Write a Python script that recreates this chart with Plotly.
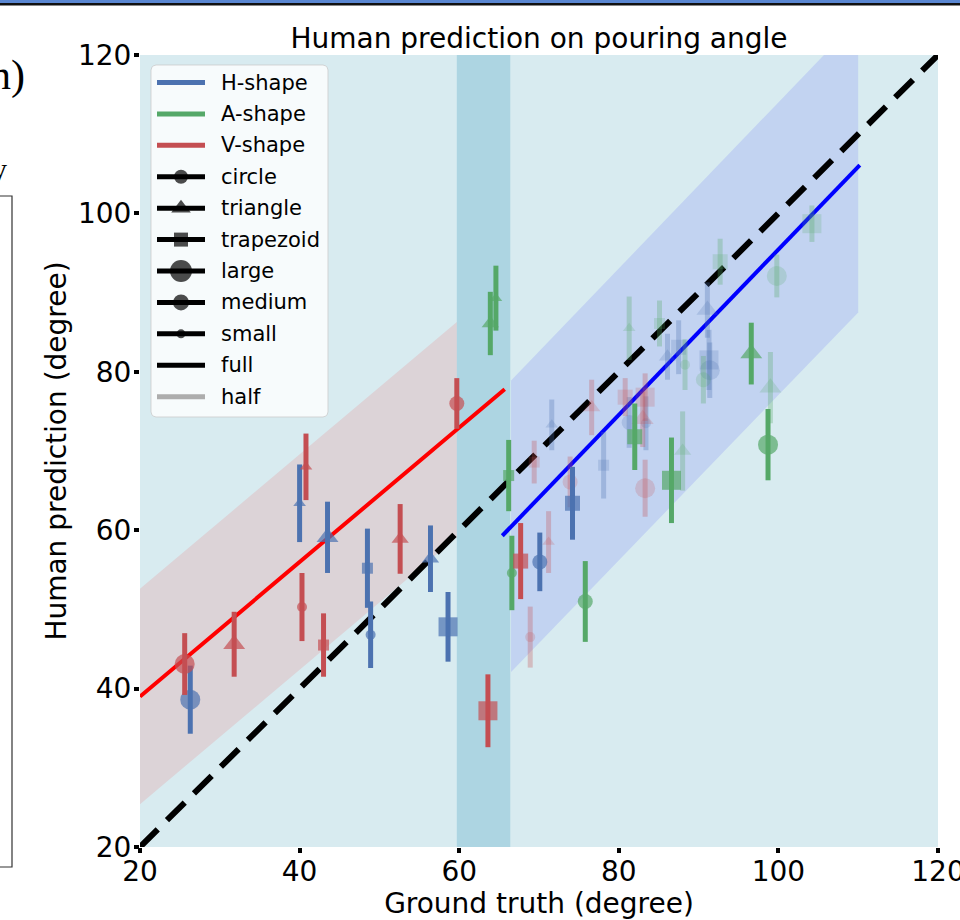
import numpy as np
import plotly.graph_objects as go

# ------------------------------------------------------------------ data
# Full-opacity points ("full")
H_full_x = [26.3, 40.0, 43.5, 48.5, 48.9, 56.4, 58.6, 70.1, 74.2]
H_full_y = [38.6, 63.4, 59.1, 55.2, 46.8, 56.4, 47.8, 56.0, 63.4]
H_full_err = [4.3, 4.9, 4.5, 5.0, 4.2, 4.2, 4.4, 3.7, 4.6]
H_full_shape = ["circle", "triangle", "triangle", "trapezoid", "circle", "triangle", "trapezoid", "circle", "trapezoid"]
H_full_size = ["large", "small", "large", "small", "small", "medium", "large", "medium", "medium"]

A_full_x = [63.9, 64.6, 66.2, 66.6, 75.8, 82.0, 86.6, 96.6, 98.7]
A_full_y = [86.1, 89.3, 66.9, 54.6, 51.0, 71.8, 66.3, 82.3, 70.8]
A_full_err = [4.0, 4.1, 4.5, 4.7, 5.1, 4.2, 5.4, 3.9, 4.5]
A_full_shape = ["triangle", "triangle", "trapezoid", "circle", "circle", "trapezoid", "trapezoid", "triangle", "circle"]
A_full_size = ["medium", "small", "small", "small", "medium", "medium", "large", "large", "large"]

V_full_x = [25.6, 31.8, 40.3, 40.8, 43.0, 52.6, 59.7, 63.6, 67.7]
V_full_y = [43.1, 45.6, 50.3, 68.0, 45.5, 58.9, 76.0, 37.2, 56.1]
V_full_err = [3.9, 4.1, 4.3, 4.2, 4.0, 4.4, 3.2, 4.6, 4.8]
V_full_shape = ["circle", "triangle", "circle", "triangle", "trapezoid", "triangle", "circle", "trapezoid", "trapezoid"]
V_full_size = ["large", "large", "small", "small", "small", "medium", "medium", "large", "medium"]

# Half-filled containers ("half")
H_half_x = [71.6, 78.1, 81.3, 83.4, 86.1, 87.5, 91.1, 91.3, 91.4]
H_half_y = [73.3, 68.2, 73.6, 73.5, 81.9, 83.1, 87.8, 81.5, 80.2]
H_half_err = [3.2, 4.2, 3.2, 3.4, 2.9, 3.4, 3.5, 3.8, 3.5]
H_half_shape = ["triangle", "trapezoid", "circle", "circle", "triangle", "trapezoid", "triangle", "trapezoid", "circle"]
H_half_size = ["small", "small", "medium", "small", "medium", "medium", "large", "large", "large"]

A_half_x = [81.3, 85.1, 88.3, 88.0, 90.6, 92.7, 99.8, 99.0, 104.2]
A_half_y = [85.5, 86.1, 80.9, 70.0, 79.0, 93.9, 92.1, 78.0, 98.7]
A_half_err = [4.0, 2.9, 3.2, 5.0, 3.0, 2.9, 2.7, 4.5, 2.3]
A_half_shape = ["triangle", "trapezoid", "circle", "triangle", "circle", "trapezoid", "circle", "triangle", "trapezoid"]
A_half_size = ["small", "small", "small", "medium", "medium", "medium", "large", "large", "large"]

V_half_x = [68.9, 69.4, 71.2, 73.9, 76.6, 80.8, 83.3, 83.0, 83.3]
V_half_y = [46.5, 68.6, 58.5, 66.1, 75.5, 76.8, 76.8, 74.0, 65.3]
V_half_err = [3.85, 2.7, 3.9, 3.2, 3.5, 2.4, 3.0, 3.5, 3.6]
V_half_shape = ["circle", "trapezoid", "triangle", "circle", "triangle", "trapezoid", "trapezoid", "triangle", "circle"]
V_half_size = ["small", "small", "small", "medium", "medium", "medium", "large", "large", "large"]

# Linear fits and their bands
RED_FIT_X = [20.0, 65.7]
RED_FIT_Y = [39.0, 77.8]
BLUE_FIT_X = [65.4, 110.2]
BLUE_FIT_Y = [59.3, 106.1]
RED_BAND_X = [20.0, 59.7]
RED_BAND_LO = [25.4, 59.1]
RED_BAND_HI = [52.6, 86.3]
BLUE_BAND_X = [66.5, 110.0]
BLUE_BAND_LO = [42.1, 87.5]
BLUE_BAND_HI = [78.9, 124.5]
IDENTITY_X = [20, 120]
IDENTITY_Y = [20, 120]
HIGHLIGHT_SPAN = [59.7, 66.4]

X_TICKS = [20, 40, 60, 80, 100, 120]
Y_TICKS = [20, 40, 60, 80, 100, 120]

LEGEND_LABELS = ["H-shape", "A-shape", "V-shape", "circle", "triangle", "trapezoid",
                 "large", "medium", "small", "full", "half"]

TITLE = "Human prediction on pouring angle"
X_LABEL = "Ground truth (degree)"
Y_LABEL = "Human prediction (degree)"

# ------------------------------------------------------------------ style
COLORS = {"H": "#4c72b0", "A": "#55a868", "V": "#c44e52"}
SYMBOLS = {"circle": "circle", "triangle": "triangle-up", "trapezoid": "square"}
MSIZE = {("circle", "large"): 20, ("circle", "medium"): 15, ("circle", "small"): 10,
         ("triangle", "large"): 19, ("triangle", "medium"): 15, ("triangle", "small"): 11,
         ("trapezoid", "large"): 19, ("trapezoid", "medium"): 15, ("trapezoid", "small"): 11}
ALPHA = {"full": 1.0, "half": 0.3}
FONT = "DejaVu Sans"

W, H = 960, 920
PL, PR, PT, PB = 140, 938, 55, 847   # plot-area box in page pixels


def rgba(hex_color, a):
    h = hex_color.lstrip("#")
    r, g, b = int(h[0:2], 16), int(h[2:4], 16), int(h[4:6], 16)
    return f"rgba({r},{g},{b},{a})"


def px_x(p):
    return (p - PL) / (PR - PL)


def px_y(p):
    return (PB - p) / (PB - PT)


fig = go.Figure()

# bands
fig.add_trace(go.Scatter(x=RED_BAND_X + RED_BAND_X[::-1], y=RED_BAND_HI + RED_BAND_LO[::-1],
                         fill="toself", fillcolor="rgba(255,0,0,0.1)", mode="lines",
                         line=dict(width=0), hoverinfo="skip"))
fig.add_trace(go.Scatter(x=BLUE_BAND_X + BLUE_BAND_X[::-1], y=BLUE_BAND_HI + BLUE_BAND_LO[::-1],
                         fill="toself", fillcolor="rgba(0,0,255,0.1)", mode="lines",
                         line=dict(width=0), hoverinfo="skip"))

# lines
fig.add_trace(go.Scatter(x=IDENTITY_X, y=IDENTITY_Y, mode="lines",
                         line=dict(color="black", width=6, dash="25px,13px")))
fig.add_trace(go.Scatter(x=RED_FIT_X, y=RED_FIT_Y, mode="lines", line=dict(color="#ff0000", width=4)))
fig.add_trace(go.Scatter(x=BLUE_FIT_X, y=BLUE_FIT_Y, mode="lines", line=dict(color="#0000ff", width=4)))

groups = [
    ("H", "half", H_half_x, H_half_y, H_half_err, H_half_shape, H_half_size),
    ("A", "half", A_half_x, A_half_y, A_half_err, A_half_shape, A_half_size),
    ("V", "half", V_half_x, V_half_y, V_half_err, V_half_shape, V_half_size),
    ("H", "full", H_full_x, H_full_y, H_full_err, H_full_shape, H_full_size),
    ("A", "full", A_full_x, A_full_y, A_full_err, A_full_shape, A_full_size),
    ("V", "full", V_full_x, V_full_y, V_full_err, V_full_shape, V_full_size),
]
for cname, fill, xs, ys, es, shp, siz in groups:
    col = rgba(COLORS[cname], ALPHA[fill])
    fig.add_trace(go.Scatter(
        x=xs, y=ys, mode="markers",
        marker=dict(symbol=[SYMBOLS[s] for s in shp],
                    size=[MSIZE[(s, z)] for s, z in zip(shp, siz)],
                    color=col, line=dict(width=0)),
        error_y=dict(type="data", array=es, visible=True, thickness=5, width=0, color=col),
    ))

# ------------------------------------------------------------------ custom legend (pixel overlay axes)
LBX0, LBX1, LBY0, LBY1, LR = 151, 328, 65, 417, 5
th = np.linspace(0, np.pi / 2, 8)
bx, by = [], []
for cx, cy, a0 in [(LBX1 - LR, LBY0 + LR, -np.pi / 2), (LBX1 - LR, LBY1 - LR, 0),
                   (LBX0 + LR, LBY1 - LR, np.pi / 2), (LBX0 + LR, LBY0 + LR, np.pi)]:
    for t in th:
        bx.append(cx + LR * np.cos(a0 + t))
        by.append(cy + LR * np.sin(a0 + t))
bx.append(bx[0]); by.append(by[0])
fig.add_trace(go.Scatter(x=bx, y=by, xaxis="x2", yaxis="y2", mode="lines", fill="toself",
                         fillcolor="rgba(255,255,255,0.8)", line=dict(color="rgba(204,204,204,0.8)", width=1),
                         hoverinfo="skip"))

leg_line_color = [COLORS["H"], COLORS["A"], COLORS["V"]] + ["black"] * 7 + ["#adadad"]
leg_symbol = [None, None, None, "circle", "triangle-up", "square", "circle", "circle", "circle", None, None]
leg_msize = [0, 0, 0, 14, 17, 14, 22, 16, 9, 0, 0]
ROW0, DROW = 82.5, 31.42
annotations = []
for i, lab in enumerate(LEGEND_LABELS):
    yy = ROW0 + i * DROW
    if leg_symbol[i] is None:
        fig.add_trace(go.Scatter(x=[157, 205], y=[yy, yy], xaxis="x2", yaxis="y2", mode="lines",
                                 line=dict(color=leg_line_color[i], width=5)))
    else:
        fig.add_trace(go.Scatter(x=[157, 181, 205], y=[yy, yy, yy], xaxis="x2", yaxis="y2",
                                 mode="lines+markers", line=dict(color=leg_line_color[i], width=5),
                                 marker=dict(symbol=leg_symbol[i], size=[0, leg_msize[i], 0],
                                             color="black", line=dict(width=0))))
    annotations.append(dict(x=219, y=yy, xref="x2", yref="y2", text=lab, showarrow=False,
                            xanchor="left", yanchor="middle",
                            font=dict(family=FONT, size=21, color="black")))

# fragments of the neighbouring panel on the left
annotations.append(dict(x=px_x(-12), y=px_y(91), xref="paper", yref="paper", text="n)", showarrow=False,
                        xanchor="left", yanchor="bottom", yshift=-10,
                        font=dict(family="Liberation Serif", size=42, color="black")))
annotations.append(dict(x=px_x(9), y=px_y(180), xref="paper", yref="paper", text="y", showarrow=False,
                        xanchor="right", yanchor="bottom", yshift=-7,
                        font=dict(family="Liberation Serif", size=30, color="black")))

shapes = [
    dict(type="rect", xref="x", yref="paper", x0=HIGHLIGHT_SPAN[0], x1=HIGHLIGHT_SPAN[1], y0=0, y1=1,
         fillcolor="#add5e2", line=dict(width=0), layer="below"),
    dict(type="rect", xref="paper", yref="paper", x0=px_x(-20), x1=px_x(12), y0=px_y(867), y1=px_y(196),
         line=dict(color="#333333", width=1.2), fillcolor="rgba(0,0,0,0)"),
    dict(type="rect", xref="paper", yref="paper", x0=px_x(-5), x1=px_x(965), y0=px_y(3), y1=px_y(-10),
         line=dict(width=0), fillcolor="#5a87d2"),
    dict(type="rect", xref="paper", yref="paper", x0=px_x(-5), x1=px_x(965), y0=px_y(5.5), y1=px_y(3),
         line=dict(width=0), fillcolor="#111111"),
]

axis_common = dict(showgrid=False, zeroline=False, showline=False, ticks="outside", ticklen=5,
                   tickwidth=4, tickcolor="black", ticklabeloverflow="allow",
                   tickfont=dict(family=FONT, size=28, color="black"))

fig.update_layout(
    width=W, height=H,
    margin=dict(l=PL, r=W - PR, t=PT, b=H - PB, pad=0, autoexpand=False),
    plot_bgcolor="#d8ebf0", paper_bgcolor="white",
    showlegend=False,
    font=dict(family=FONT, color="black"),
    title=dict(text=TITLE, x=0.5, xref="paper", xanchor="center", y=1 - 38 / H, yref="container",
               yanchor="middle", font=dict(family=FONT, size=28, color="black")),
    xaxis=dict(range=[20, 120], tickvals=X_TICKS, ticktext=[str(v) for v in X_TICKS],
               ticklabelstandoff=-6,
               title=dict(text=X_LABEL, font=dict(family=FONT, size=28), standoff=12), **axis_common),
    yaxis=dict(range=[20, 120], tickvals=Y_TICKS, ticktext=[str(v) for v in Y_TICKS],
               ticklabelstandoff=-3,
               title=dict(text=Y_LABEL, font=dict(family=FONT, size=28), standoff=3), **axis_common),
    xaxis2=dict(overlaying="x", range=[PL, PR], visible=False, fixedrange=True),
    yaxis2=dict(overlaying="y", range=[PB, PT], visible=False, fixedrange=True),
    shapes=shapes,
    annotations=annotations,
)

fig.write_html("out.html", config={"displayModeBar": False},
               post_script="document.body.style.margin='0';")
